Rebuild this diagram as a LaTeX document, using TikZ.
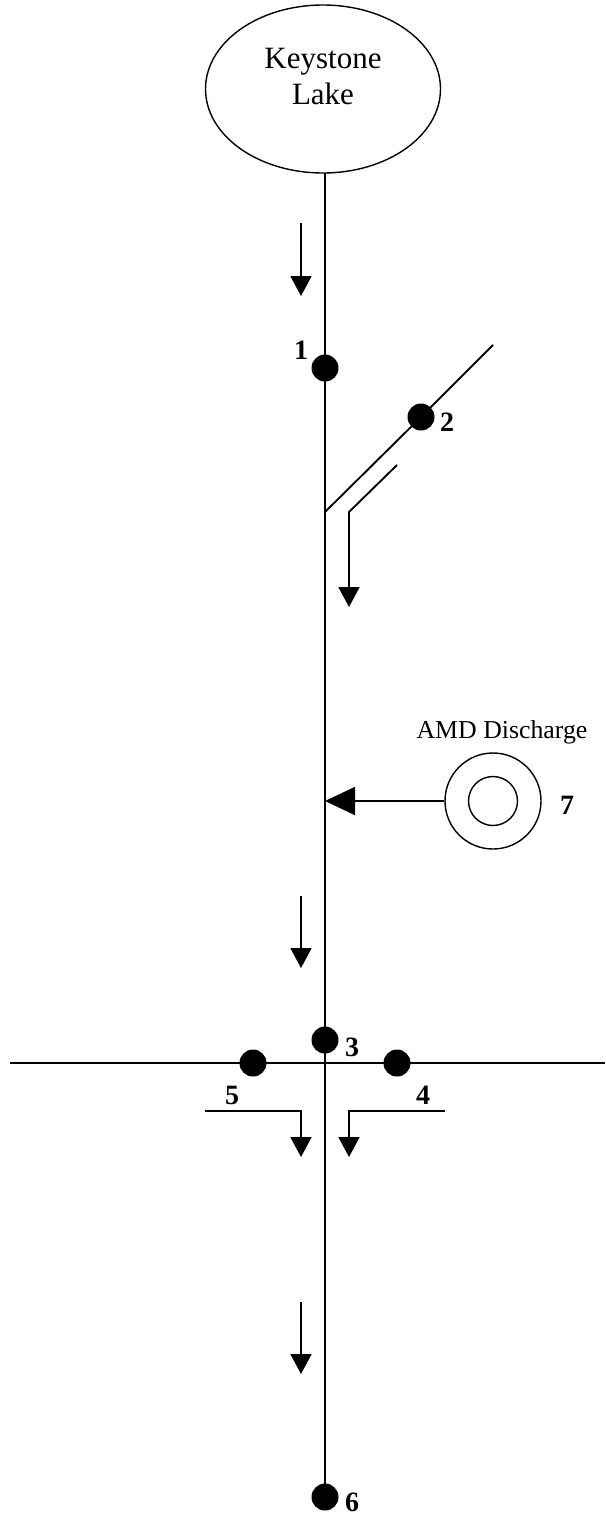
\documentclass[tikz,border=0pt]{standalone}
\usepackage{fontspec}
\setmainfont{Liberation Serif}
\usetikzlibrary{arrows.meta,shapes.geometric}
\tikzset{
  river/.style={line width=1.9pt},
  flowarrow/.style={line width=1.9pt,-{Triangle[width=21pt,length=20pt]}},
  bigarrow/.style={line width=1.9pt,-{Triangle[width=28pt,length=30pt]}},
  site/.style={circle,fill=black,draw=none,minimum size=27pt,inner sep=0pt},
  sitenum/.style={font=\fontsize{28}{30}\selectfont\bfseries,inner sep=0pt},
  ring/.style={circle,draw,line width=1.4pt,inner sep=0pt},
}
\begin{document}
\begin{tikzpicture}[x=1pt,y=-1pt]
\useasboundingbox (0,0) rectangle (605,1515);
% lake
\node[ellipse,draw,line width=1.4pt,minimum width=235pt,minimum height=168pt,inner sep=0pt] (lake) at (323,89) {};
\node[anchor=base,font=\fontsize{31}{36}\selectfont,inner sep=0pt] (lk1) at (323,68) {Keystone};
\node[anchor=base,font=\fontsize{31}{36}\selectfont,inner sep=0pt] (lk2) at (323,104) {Lake};
% coordinates on the main channel
\coordinate (top) at (325,173);
\coordinate (t0) at (325,512);
\coordinate (amdin) at (325,801);
% sites
\node[site] (d1) at (325,368) {};
\node[site] (d2) at (421,417) {};
\node[site] (d3) at (325,1040) {};
\node[site] (d4) at (397,1063) {};
\node[site] (d5) at (253,1063) {};
\node[site] (d6) at (325,1497) {};
% main channel
\draw[river] (top) -- (d1.center) -- (t0) -- (amdin) -- (d3.center) -- (d6.center);
% tributary
\coordinate (t1) at (493,345);
\draw[river] (t0) -- (d2.center) -- (t1);
% tributary flow arrow
\coordinate (ta0) at (397,465);
\coordinate (ta1) at (349,512);
\coordinate (ta2) at (349,607);
\draw[flowarrow] (ta0) -- (ta1) -- (ta2);
% cross channel
\coordinate (h0) at (10,1063);
\coordinate (h1) at (605,1063);
\draw[river] (h0) -- (d5.center) -- (d4.center) -- (h1);
% flow arrows at junction
\coordinate (s5a) at (205,1111);
\coordinate (s5b) at (301,1111);
\coordinate (s5c) at (301,1157);
\draw[flowarrow] (s5a) -- (s5b) -- (s5c);
\coordinate (s4a) at (445,1111);
\coordinate (s4b) at (349,1111);
\coordinate (s4c) at (349,1157);
\draw[flowarrow] (s4a) -- (s4b) -- (s4c);
% main flow arrows
\coordinate (fa1) at (301,223); \coordinate (fb1) at (301,296);
\coordinate (fa2) at (301,896); \coordinate (fb2) at (301,968);
\coordinate (fa3) at (301,1302); \coordinate (fb3) at (301,1374);
\draw[flowarrow] (fa1) -- (fb1);
\draw[flowarrow] (fa2) -- (fb2);
\draw[flowarrow] (fa3) -- (fb3);
% AMD discharge
\node[ring,minimum size=96pt] (amd) at (493,801) {};
\node[ring,minimum size=49pt] (amdi) at (493,801) {};
\draw[bigarrow] (amd.west) -- (amdin);
\node[anchor=base,font=\fontsize{25.8}{28}\selectfont,inner sep=0pt] (amdlab) at (502,738) {AMD Discharge};
% site numbers
\node[sitenum] (n1) at (301,350) {1};
\node[sitenum] (n2) at (447,422) {2};
\node[sitenum] (n3) at (352,1047) {3};
\node[sitenum] (n4) at (423,1095) {4};
\node[sitenum] (n5) at (232,1095) {5};
\node[sitenum] (n6) at (352,1502) {6};
\node[sitenum] (n7) at (567,805) {7};
\end{tikzpicture}
\end{document}
